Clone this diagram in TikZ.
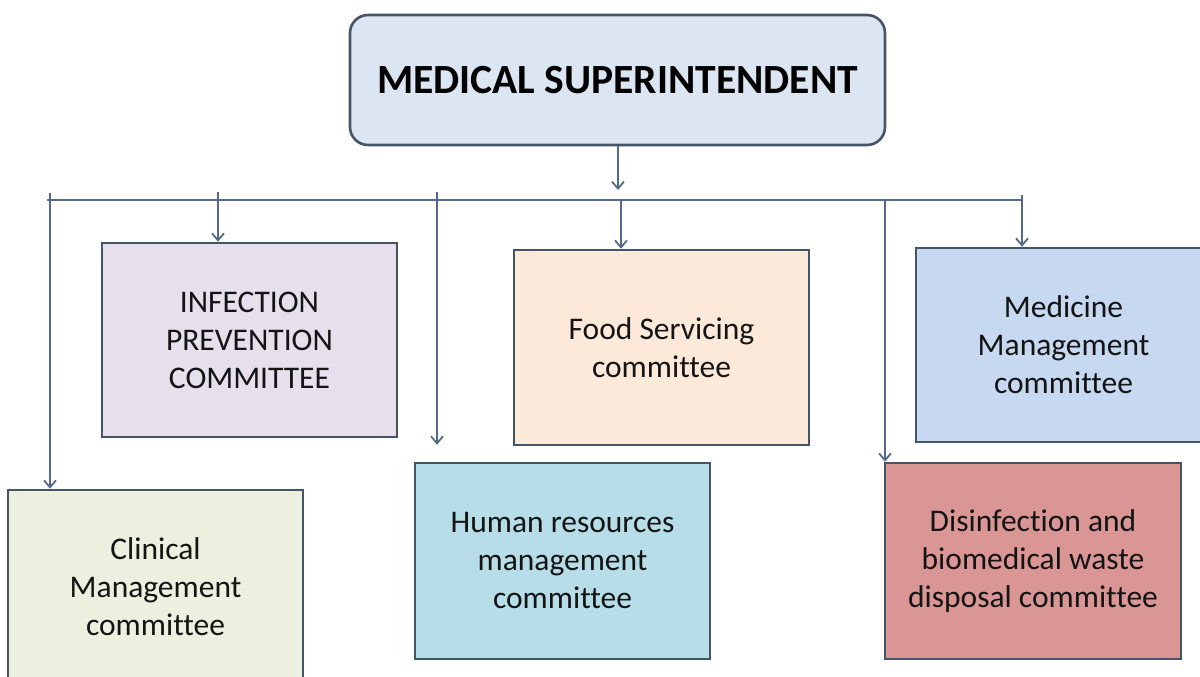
\documentclass[tikz,border=0pt]{standalone}
\usepackage{fontspec}
\setmainfont{Carlito}[Ligatures={NoCommon}]
\usetikzlibrary{arrows.meta}
\definecolor{edgec}{RGB}{70,84,104}
\definecolor{linec}{RGB}{84,106,138}
\definecolor{msfill}{RGB}{220,230,242}
\definecolor{inffill}{RGB}{229,224,236}
\definecolor{clinfill}{RGB}{235,241,222}
\definecolor{hrfill}{RGB}{183,222,232}
\definecolor{foodfill}{RGB}{253,233,217}
\definecolor{medfill}{RGB}{198,217,241}
\definecolor{disfill}{RGB}{217,150,148}
\definecolor{txt}{RGB}{20,20,20}
\tikzset{
  box/.style={draw=edgec, line width=2.6pt, minimum width=295pt, minimum height=194pt,
    align=center, text=txt, font=\fontsize{31.5}{38}\selectfont, inner sep=0pt},
  conn/.style={draw=linec, line width=1.8pt},
  arr/.style={conn, -{Straight Barb[length=7pt,width=12pt,line width=1.8pt]}}
}
\begin{document}
\begin{tikzpicture}[x=1pt,y=-1pt]
\useasboundingbox (0,0) rectangle (1200,677);
\clip (0,0) rectangle (1200,677);
\fill[white] (0,0) rectangle (1200,677);

\node[draw=edgec, line width=2.6pt, fill=msfill, rounded corners=18pt,
  minimum width=535pt, minimum height=130pt, inner sep=0pt, text=black,
  font=\fontsize{41.5}{46}\selectfont\bfseries] (ms) at (617.5,80) {MEDICAL SUPERINTENDENT};

\node[box, fill=inffill] (inf) at (249.5,340) {INFECTION\\PREVENTION\\COMMITTEE};
\node[box, fill=clinfill] (clin) at (155.5,587) {Clinical\\Management\\committee};
\node[box, fill=hrfill, minimum height=196pt] (hr) at (562.5,561) {Human resources\\management\\committee};
\node[box, fill=foodfill, minimum height=195pt] (food) at (661.5,347.5) {Food Servicing\\committee};
\node[box, fill=medfill] (med) at (1063.5,345) {Medicine\\Management\\committee};
\node[box, fill=disfill, minimum width=296pt, minimum height=196pt] (dis) at (1033,561) {Disinfection and\\biomedical waste\\disposal committee};

% bus
\coordinate (busL) at (47,200);
\coordinate (busR) at (1022,200);
\coordinate (j) at (618,190);
\coordinate (tClin) at (50,193);
\coordinate (tInf) at (218,192);
\coordinate (tHr) at (437,192);
\coordinate (tFood) at (621,200);
\coordinate (tDis) at (885,200);
\coordinate (tMed) at (1022,195);

\draw[conn] (busL) -- (busR);
\draw[arr] (ms.south -| j) -- (j);
\draw[arr] (tClin) -- (tClin |- clin.north);
\draw[arr] (tInf) -- (tInf |- inf.north);
\draw[arr, shorten >=17pt] (tHr) -- (tHr |- hr.north);
\draw[arr] (tFood) -- (tFood |- food.north);
\draw[arr] (tDis) -- (tDis |- dis.north);
\draw[arr] (tMed) -- (tMed |- med.north);
\end{tikzpicture}
\end{document}
